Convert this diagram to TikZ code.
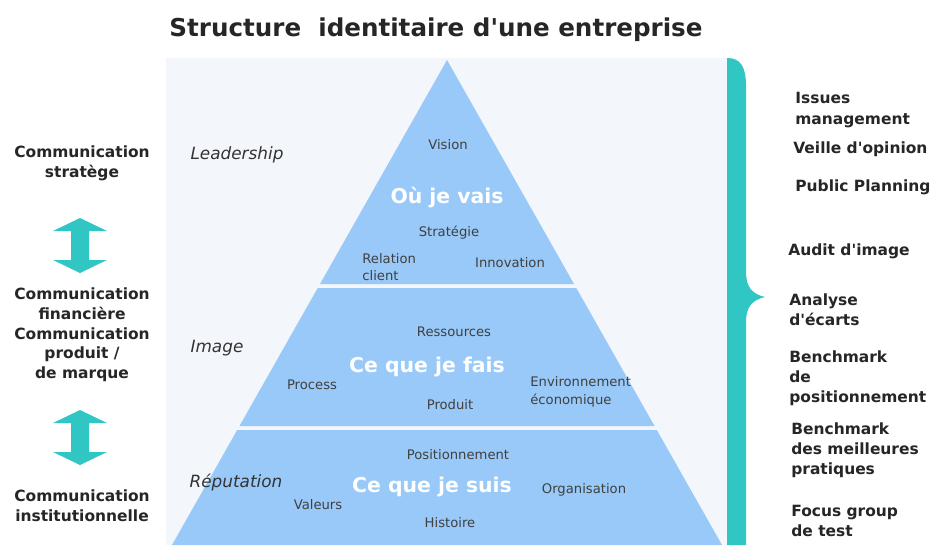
\documentclass[tikz,border=0pt]{standalone}
\usepackage{fontspec}
\setmainfont{DejaVu Sans}
\usepackage{xcolor}
\definecolor{pyrblue}{HTML}{99C9F8}
\definecolor{brace}{HTML}{30C6C4}
\definecolor{panel}{HTML}{F3F6FA}
\tikzset{
	side/.style={font=\bfseries\fontsize{8.8}{11.2}\selectfont, align=center, text=black!85, inner sep=0pt},
	listitem/.style={font=\bfseries\fontsize{8.8}{11.5}\selectfont, align=left, anchor=west, text=black!85, inner sep=0pt},
	small/.style={font=\fontsize{7.5}{10}\selectfont, text=black!75, inner sep=0pt},
	motto/.style={font=\bfseries\fontsize{11.6}{14}\selectfont, text=white, inner sep=0pt},
	level/.style={font=\itshape\fontsize{9.6}{12}\selectfont, text=black!80, inner sep=0pt},
}

\begin{document}
\begin{tikzpicture}[x=0.02cm, y=-0.02cm]
\useasboundingbox (0,0) rectangle (932,545);
\fill[white] (0,0) rectangle (932,545);

% fond
\fill[panel] (166,58) rectangle (728,545);

% pyramide
\fill[pyrblue] (447,60) -- (574,284) -- (320,284) -- cycle;
\fill[pyrblue] (317.7,288) -- (576.3,288) -- (654.5,426) -- (239.5,426) -- cycle;
\fill[pyrblue] (237.2,430) -- (656.8,430) -- (722,545) -- (172,545) -- cycle;

% accolade
\fill[brace] (727,58) .. controls (740,58) and (746,66) .. (746,86) -- (746,272)
	.. controls (746,287) and (752,294) .. (765,297) .. controls (752,300) and (746,307) .. (746,322)
	-- (746,545) -- (727,545) -- cycle;

% fleches
\foreach \t in {218,410}{
	\fill[brace] (80,\t) -- (107,\t+13) -- (89,\t+13) -- (89,\t+42) -- (107,\t+42) -- (80,\t+55)
		-- (53,\t+42) -- (71,\t+42) -- (71,\t+13) -- (53,\t+13) -- cycle;
	}

\node[font=\bfseries\fontsize{14}{16}\selectfont, text=black!85] (title) at (436,30){Structure\ \ identitaire d\textquotesingle une entreprise};

% gauche
\node[side] (strat) at (82,163){Communication\\strat\`ege};
\node[side] (fin) at (82,335){Communication\\financi\`ere\\Communication\\produit /\\de marque};
\node[side] (inst) at (82,506){Communication\\institutionnelle};

% niveaux
\node[level] (lead) at (237,155){Leadership};
\node[level] (img) at (217,348){Image};
\node[level] (rep) at (236,482){R\'eputation};

% haut
\node[small] (vision) at (448,145){Vision};
\node[motto] (vais) at (447,198){O\`u je vais};
\node[small] (strategie) at (449,233){Strat\'egie};
\node[small, align=left, anchor=west] (client) at (362,267){Relation\\client};
\node[small] (innov) at (510,263){Innovation};

% milieu
\node[small] (ress) at (454,332){Ressources};
\node[motto] (fais) at (427,367){Ce que je fais};
\node[small] (process) at (312,385){Process};
\node[small, align=left, anchor=west] (env) at (530,392){Environnement\\\'economique};
\node[small] (produit) at (450,405){Produit};

% bas
\node[small] (posit) at (458,455){Positionnement};
\node[motto] (suis) at (432,487){Ce que je suis};
\node[small] (orga) at (584,490){Organisation};
\node[small] (valeurs) at (318,505){Valeurs};
\node[small] (hist) at (450,523){Histoire};

% droite
\node[listitem] (issues) at (795,110){Issues\\management};
\node[listitem] (veille) at (793,149){Veille d\textquotesingle opinion};
\node[listitem] (public) at (795,187){Public Planning};
\node[listitem] (audit) at (788,251){Audit d\textquotesingle image};
\node[listitem] (ecarts) at (789,310){Analyse\\d\textquotesingle\'ecarts};
\node[listitem] (benchpos) at (789,378){Benchmark\\de\\positionnement};
\node[listitem] (benchmp) at (791,450){Benchmark\\des meilleures\\pratiques};
\node[listitem] (focus) at (791,521){Focus group\\de test};
\end{tikzpicture}
\end{document}
